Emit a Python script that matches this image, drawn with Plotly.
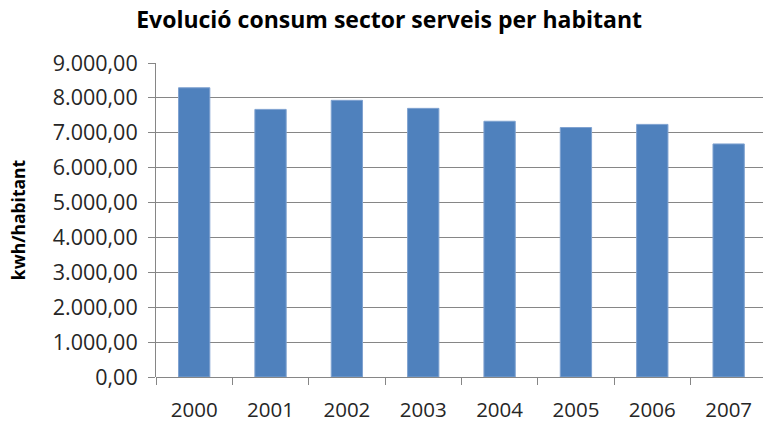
import plotly.graph_objects as go

# Consum del sector serveis per habitant (kWh/habitant)
years = ["2000", "2001", "2002", "2003", "2004", "2005", "2006", "2007"]
kwh_per_inhabitant = [8290, 7670, 7930, 7700, 7330, 7150, 7240, 6680]
y_ticks = [0, 1000, 2000, 3000, 4000, 5000, 6000, 7000, 8000, 9000]

AXIS_GREY = "#868686"
FONT = "'Open Sans', Lato, sans-serif"

fig = go.Figure(
    go.Bar(
        x=years,
        y=kwh_per_inhabitant,
        marker=dict(color="#4F81BD", line=dict(color="#7FA2D0", width=1)),
        hoverinfo="x+y",
    )
)

fig.update_layout(
    width=763,
    height=423,
    margin=dict(l=156, r=0, t=63, b=43),
    paper_bgcolor="white",
    plot_bgcolor="white",
    bargap=0.59,
    separators=",.",
    showlegend=False,
    font=dict(family=FONT, color="#262626"),
    title=dict(
        text="<b>Evolució consum sector serveis per habitant</b>",
        x=0.51,
        xanchor="center",
        y=0.952,
        yanchor="middle",
        font=dict(size=23, color="#000000", family=FONT),
    ),
)

fig.update_xaxes(
    type="category",
    range=[-0.5, 7.45],
    showline=False,
    showgrid=False,
    ticks="outside",
    tickson="boundaries",
    ticklen=7,
    tickcolor=AXIS_GREY,
    tickfont=dict(size=20.5, color="#262626"),
    ticklabelstandoff=18,
)

fig.update_yaxes(
    range=[0, 9000],
    tickvals=y_ticks,
    tickformat=",.2f",
    showline=True,
    linecolor=AXIS_GREY,
    linewidth=1,
    showgrid=True,
    gridcolor=AXIS_GREY,
    gridwidth=1,
    zeroline=True,
    zerolinecolor=AXIS_GREY,
    zerolinewidth=1,
    ticks="outside",
    ticklen=7,
    tickcolor=AXIS_GREY,
    tickfont=dict(size=21.5, color="#262626"),
    ticklabelstandoff=6,
    title=dict(
        text="<b>kwh/habitant</b>",
        font=dict(size=17.5, color="#000000", family=FONT),
        standoff=22,
    ),
)

fig.write_html("out.html")
